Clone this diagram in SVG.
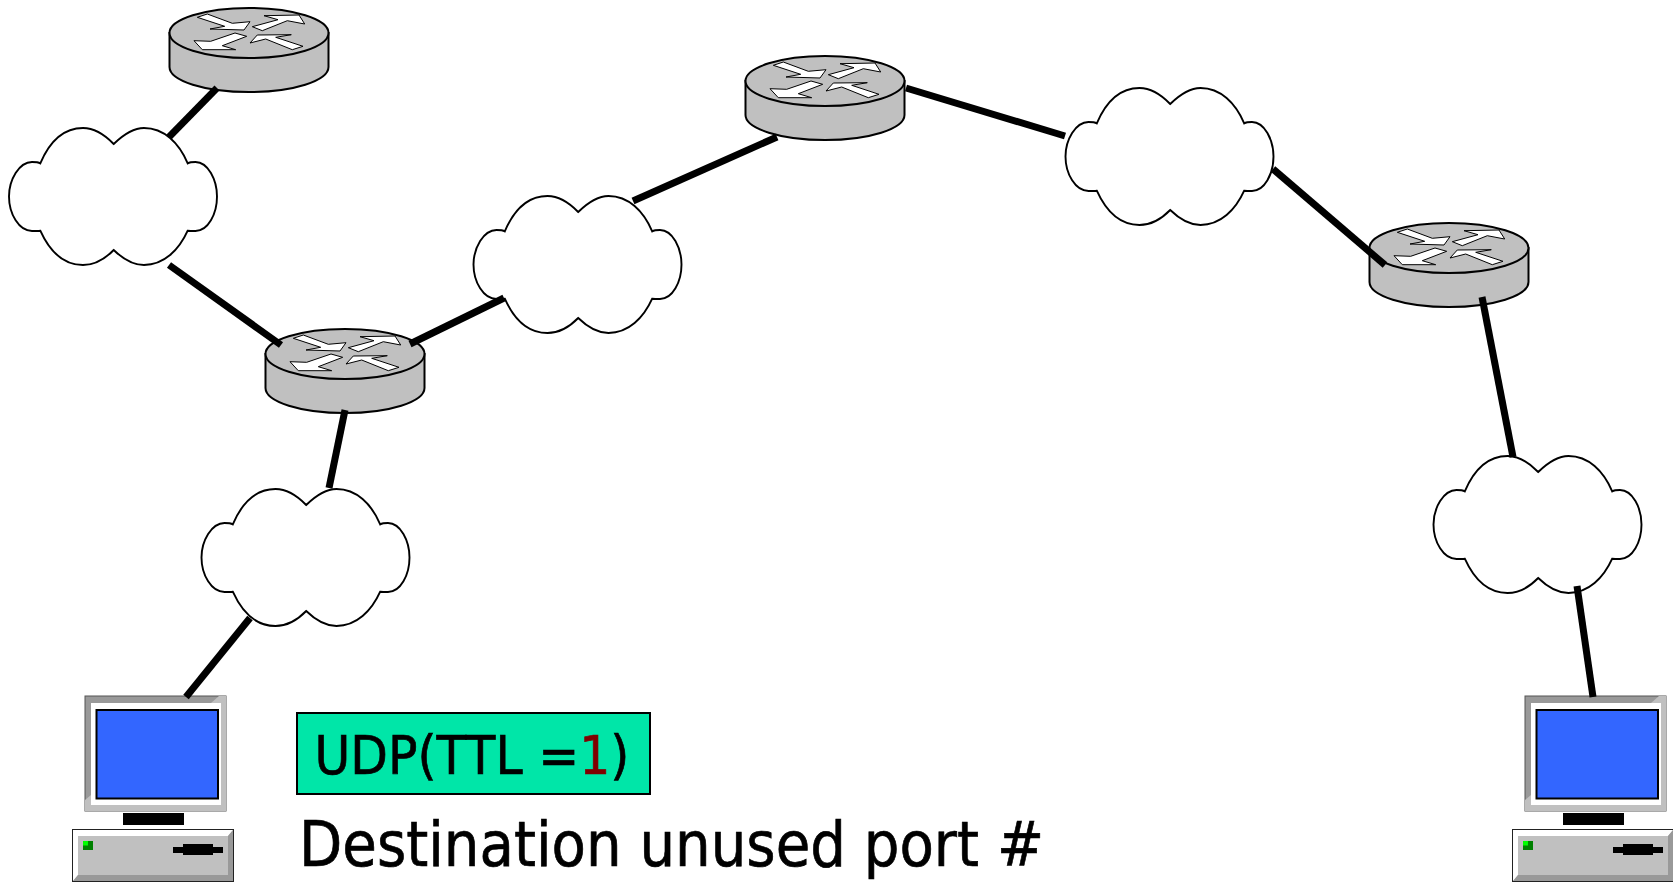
<svg xmlns="http://www.w3.org/2000/svg" width="1673" height="882" viewBox="0 0 1673 882">
<style>
.body{fill:#c0c0c0;stroke:#000;stroke-width:2}
.arr{fill:#fff;stroke:#000;stroke-width:1}
.cloud{fill:#fff;stroke:#000;stroke-width:1.9}
.link{fill:none;stroke:#000;stroke-width:7;stroke-linecap:butt}
.t{font-family:"DejaVu Sans","Liberation Sans",sans-serif;fill:#000;stroke:#000;stroke-width:.7}
.r{fill:#800000;stroke:#800000}
</style>
<defs>
<g id="router">
<path class="body" d="M.5,25V59A79.5,25 0 0 0 159.5,59V25Z"/>
<ellipse class="body" cx="80" cy="25" rx="79.5" ry="25"/>
<polygon class="arr" points="28.3,9.3 38.3,6 63.3,15.3 81,13.7 75,22 41,21 55.7,18.3"/>
<polygon class="arr" points="83.3,18.7 109,11.7 95,7.7 130,7 135.7,16 118.3,12.7 93.3,22.7"/>
<polygon class="arr" points="66,25 77.7,28.3 53.3,37.7 66.7,41.7 33.3,41.7 25,32.7 41.7,33.3"/>
<polygon class="arr" points="81,35 88.3,27 122.3,26.7 106.7,29.3 134,38.3 123.3,41.7 96.7,31"/>
</g>
<path id="cloudShape" class="cloud" d="M104.7,16C115,6 125,0 135,0C155,0 170,15 178.7,35.3C181,34 184,34 186.5,34C199,34 208,52 208,68.5C208,86 199,103 186.5,103C184,103 181,103 178.7,102.7C170,122 155,137 135,137C125,137 115,132 104.7,122C95,132 85,137 74,137C54,137 40,122 31.3,102.7C29,103 26,103 23,103C10,103 0,86 0,68.5C0,52 10,34 23,34C26,34 29,34 31.3,35.3C40,15 54,0 74,0C85,0 95,6 104.7,16Z"/>
<g id="pc">
<rect x="85" y="696" width="141" height="115" fill="#999" stroke="#555" stroke-width="1"/>
<polygon points="226,696 226,703 211,703 219,696" fill="#c0c0c0"/>
<polygon points="226,703 226,811 85,811 85,805 221,805 221,703" fill="#c0c0c0"/>
<polygon points="85,811 85,800 91,795 91,805" fill="#c0c0c0"/>
<rect x="91" y="703" width="130" height="102" fill="#fff"/>
<rect x="96.5" y="710" width="121.5" height="88.5" fill="#36f" stroke="#000" stroke-width="2"/>
<rect x="123" y="813" width="61" height="12" fill="#000"/>
<rect x="72.5" y="829.5" width="161" height="52" fill="#c0c0c0" stroke="#222" stroke-width="1"/>
<polygon points="73,830 233,830 228,836 78,836 78,875 73,881" fill="#fff"/>
<polygon points="233,830 233,881 73,881 78,875 228,875 228,836" fill="#999"/>
<rect x="72.5" y="829.5" width="161" height="52" fill="none" stroke="#222" stroke-width="1"/>
<rect x="83" y="841" width="10" height="9" fill="#008000"/>
<rect x="83" y="841" width="5" height="4.5" fill="#0f0"/>
<rect x="173" y="847" width="50" height="6" fill="#000"/>
<rect x="183" y="844" width="30" height="11" fill="#000"/>
</g>
</defs>
<g id="router1"><use href="#router" transform="translate(169,8)"/></g>
<g id="router2"><use href="#router" transform="translate(265,329)"/></g>
<g id="router3"><use href="#router" transform="translate(745,56)"/></g>
<g id="router4"><use href="#router" transform="translate(1369,223)"/></g>
<g id="cloud1"><use href="#cloudShape" transform="translate(9,128)"/></g>
<g id="cloud2"><use href="#cloudShape" transform="translate(473.5,196)"/></g>
<g id="cloud3"><use href="#cloudShape" transform="translate(1065.5,88)"/></g>
<g id="cloud4"><use href="#cloudShape" transform="translate(201.5,489)"/></g>
<g id="cloud5"><use href="#cloudShape" transform="translate(1433.5,456)"/></g>
<g id="pc1"><use href="#pc"/></g>
<g id="pc2"><use href="#pc" transform="translate(1440,0)"/></g>
<g id="connectors">
<line class="link" x1="217" y1="88" x2="169" y2="137"/>
<line class="link" x1="169" y1="265" x2="281" y2="345"/>
<line class="link" x1="410" y1="344" x2="504" y2="298"/>
<line class="link" x1="345" y1="410" x2="329" y2="488"/>
<line class="link" x1="250" y1="618" x2="186" y2="697"/>
<line class="link" x1="633" y1="201" x2="777" y2="137"/>
<line class="link" x1="906" y1="88" x2="1065" y2="136"/>
<line class="link" x1="1273" y1="169" x2="1385" y2="265"/>
<line class="link" x1="1482" y1="297" x2="1513" y2="457"/>
<line class="link" x1="1577" y1="586" x2="1593" y2="697"/>
</g>
<g id="packet">
<rect x="297" y="713" width="353" height="81" fill="#00e6a8" stroke="#000" stroke-width="2"/>
<text class="t" transform="translate(314.5,774) scale(.906,1)" font-size="54">UDP(TTL =<tspan class="r">1</tspan>)</text>
</g>
<text id="label" class="t" x="299" y="866" font-size="63" textLength="745" lengthAdjust="spacingAndGlyphs">Destination unused port #</text>
</svg>
